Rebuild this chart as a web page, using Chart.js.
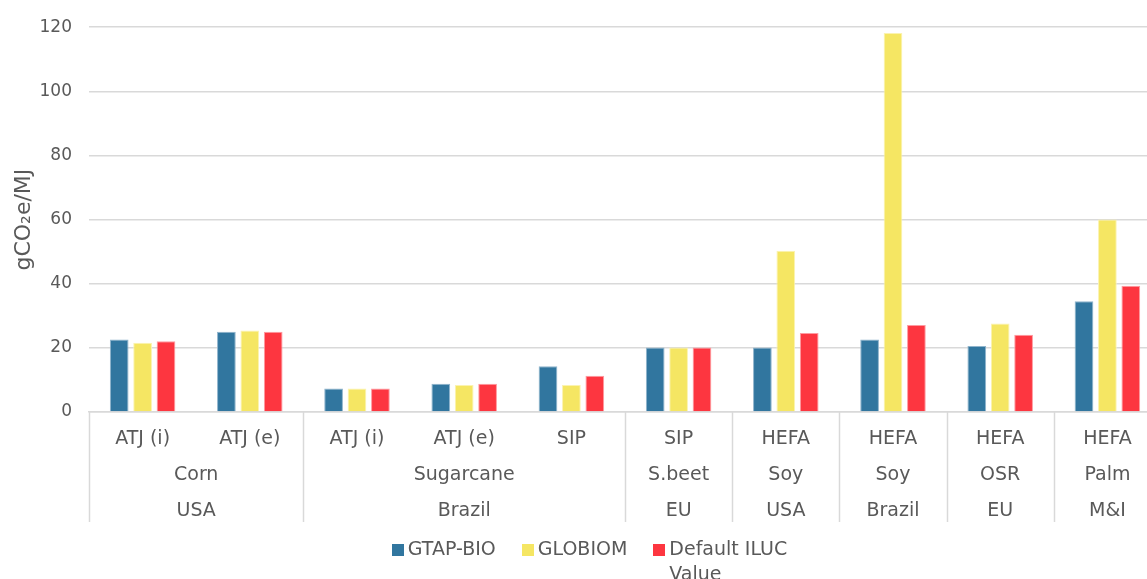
<!DOCTYPE html>
<html>
<head>
<meta charset="utf-8">
<script src="https://cdn.jsdelivr.net/npm/chart.js@4/dist/chart.umd.min.js"></script>
<style>
  html, body { margin: 0; padding: 0; background: #fff; overflow: hidden; }
  #wrap { width: 1165px; height: 579px; }
</style>
</head>
<body>
<div id="wrap"><canvas id="chart"></canvas></div>
<script>
// categories (three levels of the x axis)
const pathways = ['ATJ (i)', 'ATJ (e)', 'ATJ (i)', 'ATJ (e)', 'SIP', 'SIP', 'HEFA', 'HEFA', 'HEFA', 'HEFA'];
const crops = ['Corn', 'Corn', 'Sugarcane', 'Sugarcane', 'Sugarcane', 'S.beet', 'Soy', 'Soy', 'OSR', 'Palm'];
const regions = ['USA', 'USA', 'Brazil', 'Brazil', 'Brazil', 'EU', 'USA', 'Brazil', 'EU', 'M&I'];

// series values, gCO2e/MJ
const gtapBio = [22.6, 25.0, 7.3, 8.8, 14.3, 20.1, 20.1, 22.6, 20.6, 34.5];
const globiom = [21.6, 25.4, 7.3, 8.4, 8.4, 20.1, 50.3, 118.2, 27.6, 60.0];
const defaultIluc = [22.1, 25.0, 7.3, 8.8, 11.3, 20.1, 24.6, 27.1, 24.1, 39.4];

const seriesNames = ['GTAP-BIO', 'GLOBIOM', 'Default ILUC Value'];
const legendText = [['GTAP-BIO'], ['GLOBIOM'], ['Default ILUC', 'Value']];
const yTicks = [0, 20, 40, 60, 80, 100, 120];

const textColor = '#595959';
const gridColor = '#d9d9d9';
const fontFamily = '"DejaVu Sans", sans-serif';

// runs of equal keys -> [{label, start, end}]
function runs(keys, labels) {
  const out = [];
  keys.forEach((k, i) => {
    const last = out[out.length - 1];
    if (last && last.key === k) last.end = i;
    else out.push({ key: k, label: labels[i], start: i, end: i });
  });
  return out;
}

const multiLevelAxis = {
  id: 'multiLevelAxis',
  afterDraw(chart) {
    const ctx = chart.ctx;
    const x = chart.scales.x;
    const base = chart.chartArea.bottom;
    const step = x.getPixelForValue(1) - x.getPixelForValue(0);
    const regionRuns = runs(regions, regions);
    // crops are grouped only inside the same region run
    const cropKeys = crops.map((c, i) => regionRuns.findIndex(g => i >= g.start && i <= g.end) + '|' + c);
    const cropRuns = runs(cropKeys, crops);

    ctx.save();
    ctx.fillStyle = textColor;
    ctx.font = '19px ' + fontFamily;
    ctx.textAlign = 'center';
    ctx.textBaseline = 'middle';
    cropRuns.forEach(g => {
      const cx = (x.getPixelForValue(g.start) + x.getPixelForValue(g.end)) / 2;
      ctx.fillText(g.label, cx, base + 63);
    });
    regionRuns.forEach(g => {
      const cx = (x.getPixelForValue(g.start) + x.getPixelForValue(g.end)) / 2;
      ctx.fillText(g.label, cx, base + 99);
    });

    ctx.strokeStyle = gridColor;
    ctx.lineWidth = 1.5;
    const edges = regionRuns.map(g => g.start).concat([pathways.length]);
    edges.forEach(i => {
      const px = Math.round(x.getPixelForValue(0) + (i - 0.5) * step) + 0.5;
      ctx.beginPath();
      ctx.moveTo(px, base);
      ctx.lineTo(px, base + 110);
      ctx.stroke();
    });
    ctx.restore();
  }
};

// legend with a wrapped last entry, as in the original
const bottomLegend = {
  id: 'bottomLegend',
  afterDraw(chart) {
    const ctx = chart.ctx;
    const y = chart.scales.x.bottom + 28;
    const box = 12, textGap = 4, itemGap = 26, lineH = 25;
    ctx.save();
    ctx.font = '19px ' + fontFamily;
    ctx.textBaseline = 'middle';
    ctx.textAlign = 'left';
    const widths = legendText.map(lines => box + textGap + Math.max(...lines.map(t => ctx.measureText(t).width)));
    const total = widths.reduce((a, b) => a + b, 0) + itemGap * (widths.length - 1);
    let x = chart.width / 2 + 7 - total / 2;
    chart.data.datasets.forEach((ds, i) => {
      ctx.fillStyle = ds.backgroundColor;
      ctx.fillRect(Math.round(x), Math.round(y - box / 2), box, box);
      ctx.fillStyle = textColor;
      legendText[i].forEach((t, j) => ctx.fillText(t, x + box + textGap, y + j * lineH));
      x += widths[i] + itemGap;
    });
    ctx.restore();
  }
};

const colors = ['#31769f', '#f5e663', '#fd3640'];
const borders = ['#8fb4cc', '#fbf3b0', '#fe9aa0'];
const values = [gtapBio, globiom, defaultIluc];

new Chart(document.getElementById('chart'), {
  type: 'bar',
  data: {
    labels: pathways,
    datasets: values.map((v, i) => ({
      label: seriesNames[i],
      data: v,
      backgroundColor: colors[i],
      borderColor: borders[i],
      borderWidth: 1,
      categoryPercentage: 0.655,
      barPercentage: 0.8
    }))
  },
  options: {
    responsive: true,
    maintainAspectRatio: false,
    animation: false,
    layout: { padding: { top: 12, right: 4, left: 0, bottom: 57 } },
    plugins: {
      tooltip: { enabled: false },
      legend: { display: false }
    },
    scales: {
      x: {
        grid: { display: false, drawTicks: false },
        border: { display: true, color: gridColor, width: 1.5 },
        ticks: { color: textColor, font: { family: fontFamily, size: 19 }, padding: 16, maxRotation: 0, autoSkip: false },
        afterFit(scale) { scale.height = 110; }
      },
      y: {
        min: 0,
        max: 120,
        afterBuildTicks(scale) { scale.ticks = yTicks.map(v => ({ value: v })); },
        grid: { color: gridColor, lineWidth: 1.5, drawTicks: false },
        border: { display: false },
        ticks: { color: textColor, font: { family: fontFamily, size: 17 }, padding: 17 },
        title: {
          display: true,
          text: 'gCO₂e/MJ',
          color: textColor,
          font: { family: fontFamily, size: 22 },
          padding: { top: 11, bottom: 0 }
        },
        afterFit(scale) { scale.width = 89; }
      }
    }
  },
  plugins: [multiLevelAxis, bottomLegend]
});
</script>
</body>
</html>
